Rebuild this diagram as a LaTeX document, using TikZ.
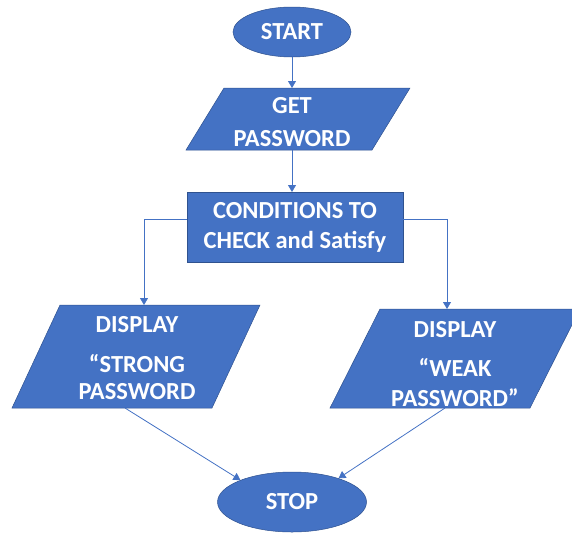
\documentclass[tikz,border=0pt]{standalone}
\usepackage{fontspec}
\setmainfont{Carlito}
\usetikzlibrary{shapes.geometric,arrows.meta}
\definecolor{obl}{HTML}{4472C4}
\definecolor{obd}{HTML}{2F528F}
\begin{document}
\begin{tikzpicture}[x=1pt,y=-1pt,
 shp/.style={fill=obl,draw=obd,line width=0.5pt},
 txt/.style={text=white,font=\fontsize{24.5}{30}\selectfont\bfseries,align=center,inner sep=0pt},
 term/.style={ellipse,shp,txt},
 conn/.style={draw=obl,line width=0.8pt,-{Triangle[width=8pt,length=7pt]}}]
\useasboundingbox (0,0) rectangle (572,533);
\clip (0,0) rectangle (572,533);
% START
\node[term,minimum width=118pt,minimum height=50pt] (start) at (292,32) {START};
% GET PASSWORD
\fill[shp] (224,88) -- (410,88) -- (372,150) -- (186,150) -- cycle;
\node[txt,font=\fontsize{24.5}{33}\selectfont\bfseries] (get) at (292,122) {GET\\PASSWORD};
\coordinate (gett) at (292,88);
\coordinate (getb) at (292,150);
% CONDITIONS
\node[shp,txt,rectangle,minimum width=216pt,minimum height=70pt] (cond) at (295,227) {CONDITIONS TO\\CHECK and Satisfy};
\coordinate (condt) at (292,192);
% STRONG
\fill[shp] (60,305) -- (260,305) -- (212,408) -- (12,408) -- cycle;
\node[txt,font=\fontsize{24.5}{27}\selectfont\bfseries] (strong) at (137,358) {DISPLAY\\[13pt]“STRONG\\PASSWORD};
\coordinate (st) at (144,305);
\coordinate (sb) at (125,408);
% WEAK
\fill[shp] (380,309) -- (580,309) -- (530,408) -- (330,408) -- cycle;
\node[txt,font=\fontsize{24.5}{30}\selectfont\bfseries] (weak) at (455,364) {DISPLAY\\[9pt]“WEAK\\PASSWORD”};
\coordinate (wt) at (447,309);
\coordinate (wb) at (445,408);
% STOP
\node[term,minimum width=149pt,minimum height=60pt] (stop) at (292,502) {STOP};
% connectors
\draw[conn] (start) -- (gett);
\draw[conn] (getb) -- (condt);
\draw[conn] ([yshift=8pt]cond.west) -| (st);
\draw[conn] ([yshift=8pt]cond.east) -| (wt);
\draw[conn] (sb) -- (stop.157);
\draw[conn] (wb) -- (stop.27);
\end{tikzpicture}
\end{document}
